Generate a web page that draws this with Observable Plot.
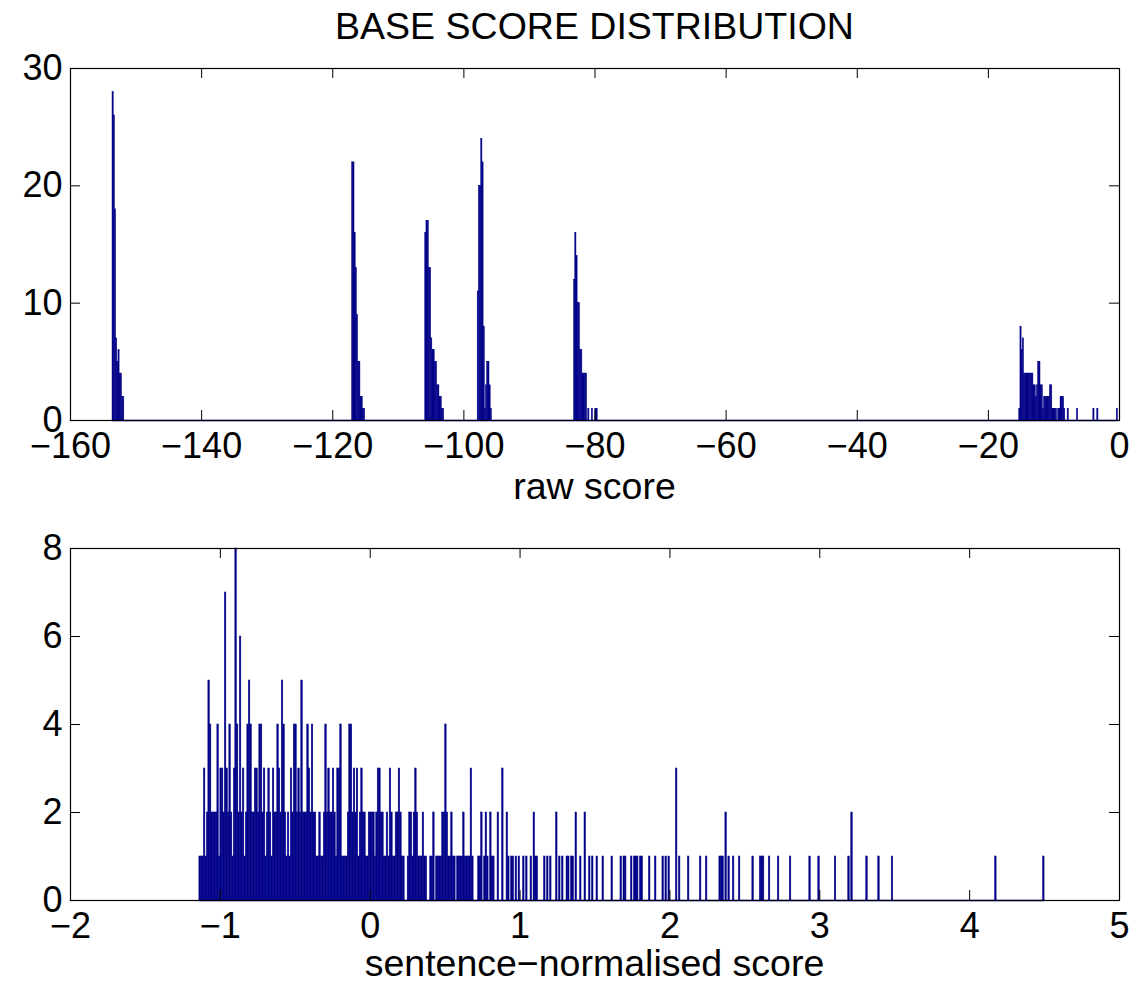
<!DOCTYPE html>
<html><head><meta charset="utf-8">
<script src="https://cdn.jsdelivr.net/npm/d3@7"></script>
<script src="https://cdn.jsdelivr.net/npm/@observablehq/plot@0.6"></script>
<style>
body{margin:0;background:#fff;}
#fig{position:relative;width:1138px;height:983px;background:#fff;font-family:"Liberation Sans",Arial,Helvetica,sans-serif;color:#000;overflow:hidden;}
.lbl{position:absolute;left:70px;width:1049px;text-align:center;font-size:37.5px;line-height:0.75;white-space:nowrap;}
.panel{position:absolute;left:0;}
</style></head><body>
<div id="fig"></div>
<script>
// ---------- data ----------
const titleText = "BASE SCORE DISTRIBUTION";
const rawLabel = "raw score";
const normLabel = "sentence\u2212normalised score";

// Top panel: histogram of raw scores (clusters of adjacent bins)
const rawBinWidth = 0.18;
const rawClusterStarts = [-153.5, -116.95, -105.8, -97.8, -83.1, -15.2, -6.4, -3.9, -3.3, -0.33];
const rawClusterCounts = [
  [28, 26, 18, 7, 5, 6, 4, 4, 2, 2],
  [22, 22, 16, 13, 9, 5, 5, 2, 2, 1, 1],
  [16, 17, 17, 13, 13, 7, 6, 6, 5, 5, 3, 3, 2, 2, 1, 1],
  [11, 20, 20, 24, 22, 8, 1, 3, 5, 5, 3, 1],
  [12, 16, 14, 10, 10, 6, 6, 4, 4, 4, 4, 0, 1, 0, 0, 1, 0, 0, 1, 1],
  [1, 8, 6, 7, 4, 4, 4, 4, 4, 4, 4, 4, 3, 3, 2, 3, 5, 5, 3, 3, 1, 2, 2, 2, 2, 2, 3, 3, 1, 1, 1, 1, 0, 1, 1, 2, 2, 2, 1, 0, 0, 1],
  [1], [1], [1], [1]
];
const rawXTicks = [-160, -140, -120, -100, -80, -60, -40, -20, 0];
const rawYTicks = [0, 10, 20, 30];

// Bottom panel: histogram of sentence-normalised scores
const normBinWidth = 0.01;
const normDenseStart = -1.14;
const normDenseCounts = [
  1,1,1,3,1,2,5,4,2,2,
  2,2,4,1,3,3,2,7,3,2,
  4,2,1,3,8,4,2,6,2,3,
  1,2,4,5,4,2,2,3,3,2,
  4,4,2,3,1,2,3,2,1,3,
  2,2,4,3,2,5,4,2,1,2,
  1,3,2,4,4,2,3,2,5,2,
  2,2,4,3,2,4,2,2,1,1,
  2,1,1,2,4,2,3,2,2,3,
  2,1,3,3,4,1,1,1,1,2,
  4,4,2,3,2,3,1,2,3,2,
  2,1,1,2,2,2,2,1,2,3,
  3,2,2,1,1,2,1,3,2,1,
  1,2,2,3,2,1,1,0,0,1,
  2,2,1,2,3,2,1,1,1,2,
  1,1,0,0,1,1,2,0,1,1,
  1,1,2,2,4,2,1,1,2,1,
  1,0,1,1,1,1,2,1,1,1,
  1,3,1,0,0,0,1,1,2,0,
  1,2,1,0,2,1,1
];
const normSparseScores = [0.855,0.885,0.915,0.925,0.945,0.955,0.975,0.995,1.025,1.045,1.075,1.095,1.105,1.115,1.165,1.185,1.205,1.245,1.265,1.285,1.315,1.325,1.345,1.355,1.375,1.405,1.435,1.465,1.485,1.515,1.555,1.615,1.675,1.695,1.705,1.745,1.765,1.775,1.785,1.805,1.815,1.865,1.905,1.955,1.975,1.995,2.045,2.065,2.125,2.205,2.245,2.335,2.345,2.355,2.375,2.395,2.425,2.465,2.555,2.605,2.615,2.625,2.665,2.725,2.805,2.935,2.995,3.105,3.195,3.215,3.315,3.395,3.485,4.175,4.495];
const normSparseCounts = [2,3,2,1,1,1,1,1,1,1,1,2,1,1,1,1,1,2,1,1,1,1,1,1,2,1,2,1,1,1,1,1,1,1,1,1,1,1,1,1,1,1,1,1,1,1,3,1,1,1,1,1,1,1,2,1,1,1,1,1,1,1,1,1,1,1,1,1,1,2,1,1,1,1,1];
const normXTicks = [-2, -1, 0, 1, 2, 3, 4, 5];
const normYTicks = [0, 2, 4, 6, 8];

// ---------- build bin tables ----------
const rawBins = [];
rawClusterStarts.forEach((s, j) => {
  rawClusterCounts[j].forEach((c, k) => {
    const ctr = s + k * rawBinWidth;
    rawBins.push({x1: ctr - rawBinWidth / 2, x2: ctr + rawBinWidth / 2, y: c});
  });
});
const normBins = [];
normDenseCounts.forEach((c, i) => {
  const lo = normDenseStart + i * normBinWidth;
  normBins.push({x1: lo, x2: lo + normBinWidth, y: c});
});
normSparseScores.forEach((v, i) => {
  normBins.push({x1: v - normBinWidth / 2, x2: v + normBinWidth / 2, y: normSparseCounts[i]});
});

const navy = "#000088";
const fmt = d => (d < 0 ? "\u2212" + Math.abs(d) : String(d));
const fig = document.getElementById("fig");

function panel({bins, xDomain, yDomain, xTicks, yTicks, top, height, mTop, mBottom}) {
  const frameW = 1138 - 70 - 19;
  const frameH = height - mTop - mBottom;
  const pos = bins.filter(b => b.y > 0);
  const xmin = d3.min(bins, b => b.x1), xmax = d3.max(bins, b => b.x2);
  const svg = Plot.plot({
    width: 1138, height,
    marginLeft: 70, marginRight: 19, marginTop: mTop, marginBottom: mBottom,
    style: {fontFamily: '"Liberation Sans", Arial, Helvetica, sans-serif', fontSize: "36px", color: "black", background: "white", overflow: "visible"},
    x: {domain: xDomain},
    y: {domain: yDomain},
    marks: [
      Plot.rectY(pos, {x1: "x1", x2: "x2", y: "y", fill: navy, stroke: navy, strokeWidth: 0.5}),
      Plot.ruleY([0], {x1: xmin, x2: xmax, stroke: "#0000a8", strokeWidth: 1.3}),
      Plot.tickX(xTicks, {insetTop: frameH - 10, stroke: "black"}),
      Plot.tickX(xTicks, {insetBottom: frameH - 10, stroke: "black"}),
      Plot.tickY(yTicks, {insetRight: frameW - 10, stroke: "black"}),
      Plot.tickY(yTicks, {insetLeft: frameW - 10, stroke: "black"}),
      Plot.frame({stroke: "black", strokeWidth: 1.2}),
      Plot.axisX({anchor: "bottom", ticks: xTicks, tickSize: 0, tickPadding: 12, tickFormat: fmt, label: null}),
      Plot.axisY({anchor: "left", ticks: yTicks, tickSize: 0, tickPadding: 8, tickFormat: fmt, label: null})
    ]
  });
  svg.classList.add("panel");
  svg.style.top = top + "px";
  fig.appendChild(svg);
}

panel({bins: rawBins, xDomain: [-160, 0], yDomain: [0, 30], xTicks: rawXTicks, yTicks: rawYTicks,
       top: 0, height: 470, mTop: 68, mBottom: 50});
panel({bins: normBins, xDomain: [-2, 5], yDomain: [0, 8], xTicks: normXTicks, yTicks: normYTicks,
       top: 500, height: 460, mTop: 48, mBottom: 60});

function label(text, y) {
  const d = document.createElement("div");
  d.className = "lbl";
  d.style.top = y + "px";
  d.textContent = text;
  fig.appendChild(d);
}
label(titleText, 11.7);
label(rawLabel, 471.7);
label(normLabel, 948.7);
</script>
</body></html>
